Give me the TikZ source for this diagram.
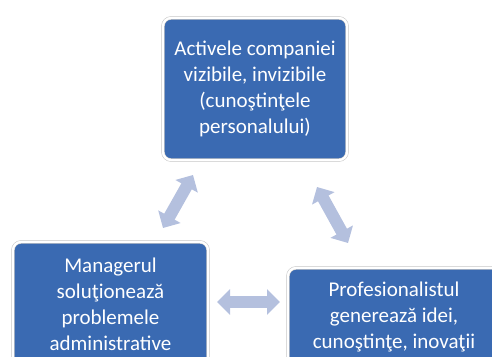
\documentclass[tikz,border=0pt]{standalone}
\usepackage{fontspec}
\setmainfont{Carlito}
\usetikzlibrary{arrows.meta}
\definecolor{boxblue}{RGB}{58,106,178}
\definecolor{arrowblue}{RGB}{180,192,222}
\tikzset{
  rolebox/.style={fill=boxblue,draw=black!25,double=white,double distance=2.4pt,line width=0.5pt,
    rounded corners=8pt,inner sep=0pt,align=center,text=white,font=\fontsize{21}{26}\selectfont,
    execute at begin node=\setlength{\baselineskip}{26pt}},
  flowarrow/.style={draw=arrowblue,line width=12pt,
    {Triangle[width=25pt,length=13pt]}-{Triangle[width=25pt,length=13pt]}}
}
\begin{document}
\begin{tikzpicture}[x=1pt,y=1pt]
  \useasboundingbox (0,0) rectangle (492,356);
  \clip (0,0) rectangle (492,356);
  \node[rolebox,minimum width=184pt,minimum height=142pt] (activ) at (255,267) {
    Activele companiei\\ vizibile, invizibile\\ (cunoştinţele\\ personalului)
  };
  \node[rolebox,minimum width=195pt,minimum height=124pt] (manager) at (110.5,52) {
    Managerul\\ soluţionează\\ problemele\\ administrative
  };
  \node[rolebox,minimum width=212pt,minimum height=98pt] (prof) at (394,39) {
    Profesionalistul\\ generează idei,\\ cunoştinţe, inovaţii
  };
  % arrow ends
  \coordinate (m1) at (163,128);
  \coordinate (a1) at (193,181);
  \coordinate (a2) at (317,169);
  \coordinate (p1) at (348,113);
  \coordinate (m2) at (217,54);
  \coordinate (p2) at (280,54);
  \draw[flowarrow] (m1) -- (a1);
  \draw[flowarrow] (a2) -- (p1);
  \draw[flowarrow] (m2) -- (p2);
\end{tikzpicture}
\end{document}
